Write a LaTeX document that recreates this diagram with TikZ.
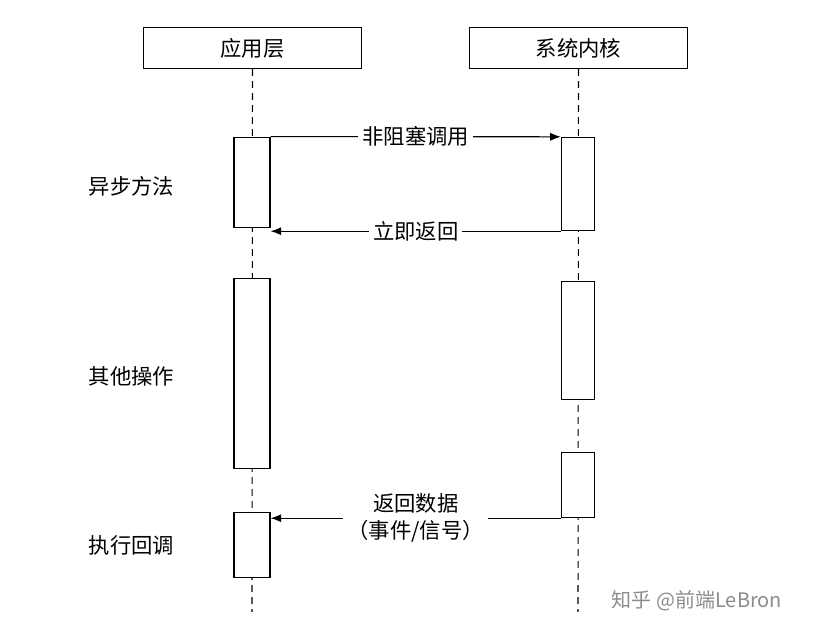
\documentclass[tikz,border=0pt]{standalone}
\usepackage{fontspec}
\setmainfont{Liberation Serif}
\newfontfamily\cjk{Noto Sans CJK SC}
\usetikzlibrary{arrows.meta}
\begin{document}
\begin{tikzpicture}[x=0.75pt,y=-0.75pt,
  head/.style={draw,thick,minimum width=164pt,minimum height=31pt,font=\cjk\fontsize{16}{18}\selectfont},
  act/.style={draw,thick,fill=white},
  lbl/.style={font=\cjk\fontsize{16}{20}\selectfont,fill=white,inner sep=3pt,align=center},
  side/.style={font=\cjk\fontsize{16}{18}\selectfont,anchor=west},
  msg/.style={thick,-{Latex[length=8pt,width=6pt]}},
  life/.style={thick,dashed,dash pattern=on 5pt off 4pt}]
\useasboundingbox (0,0) rectangle (822,634);
\node[head] (app) at (252.5,48) {应用层};
\node[head] (ker) at (578.5,48) {系统内核};
\coordinate (append) at (252,612);
\coordinate (kerend) at (578,612);
\draw[life] (app.south) -- (append);
\draw[life] (ker.south) -- (kerend);
\node[act,minimum width=27pt,minimum height=68pt] (a1) at (252,182.5) {};
\node[act,minimum width=27pt,minimum height=142pt] (a2) at (252,373.5) {};
\node[act,minimum width=27pt,minimum height=49pt] (a3) at (252,545) {};
\node[act,minimum width=25pt,minimum height=70pt] (k1) at (578,184) {};
\node[act,minimum width=25pt,minimum height=88pt] (k2) at (578,340.5) {};
\node[act,minimum width=25pt,minimum height=49pt] (k3) at (578,485) {};
\draw[msg] (a1.north east) -- node[lbl]{非阻塞调用} (k1.north west);
\draw[msg] (k1.south west) -- node[lbl]{立即返回} (k1.south west -| a1.east);
\coordinate (r3) at (a3.east |- k3.south);
\draw[msg] (k3.south west) -- node[lbl]{返回数据\\（事件/信号）} (r3);
\node[side] (s1) at (84,186) {异步方法};
\node[side] (s2) at (84,376) {其他操作};
\node[side] (s3) at (84,545) {执行回调};
\node[font=\cjk\fontsize{15}{18}\selectfont,text=black!45] (wm) at (697,601) {知乎 @前端LeBron};
\end{tikzpicture}
\end{document}
